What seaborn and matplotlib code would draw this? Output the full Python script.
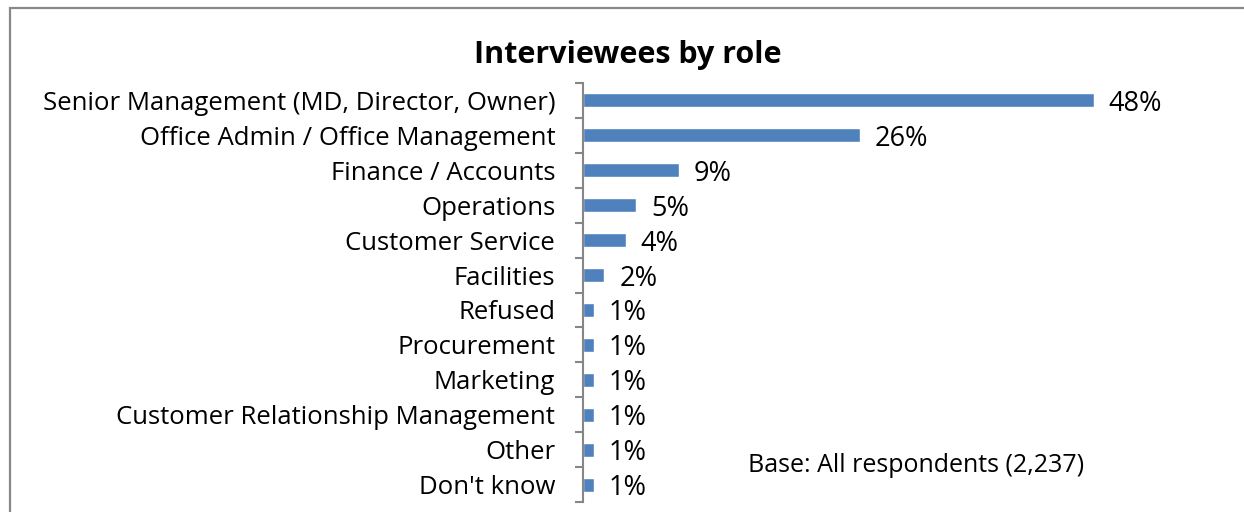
import matplotlib
matplotlib.use("Agg")
import matplotlib.pyplot as plt
import seaborn as sns
import pandas as pd
from matplotlib.patches import Rectangle

roles = [
    "Senior Management (MD, Director, Owner)",
    "Office Admin / Office Management",
    "Finance / Accounts",
    "Operations",
    "Customer Service",
    "Facilities",
    "Refused",
    "Procurement",
    "Marketing",
    "Customer Relationship Management",
    "Other",
    "Don't know",
]
shares = [48, 26, 9, 5, 4, 2, 1, 1, 1, 1, 1, 1]

df = pd.DataFrame({"role": roles, "share": shares})

sns.set_style("white")
plt.rcParams["font.family"] = ["Open Sans", "DejaVu Sans"]
plt.rcParams["text.color"] = "black"
plt.rcParams["ytick.color"] = "black"

W, H = 1244, 512
fig = plt.figure(figsize=(W / 100, H / 100), dpi=100)

# outer chart frame (cut off at right and bottom like the source)
fig.patches.append(Rectangle((10 / W, -0.1), 1.2, (H - 8) / H + 0.1,
                             transform=fig.transFigure, fill=False,
                             edgecolor="#888888", linewidth=1.6))

ax = fig.add_axes([583 / W, 10 / H, 532 / W, 419 / H])
sns.barplot(data=df, x="share", y="role", orient="h", color="#4F81BD",
            width=0.4, saturation=1, ax=ax)

ax.set_xlim(0, 50)
ax.set_ylim(len(roles) - 0.5, -0.5)
ax.set_xlabel("")
ax.set_ylabel("")
ax.set_xticks([])
for s in ["top", "right", "bottom"]:
    ax.spines[s].set_visible(False)
ax.spines["left"].set_color("#868686")
ax.spines["left"].set_linewidth(1.5)

ax.tick_params(axis="y", which="major", length=0, pad=20, labelsize=18.5,
               labelcolor="black")
ax.set_yticks([i - 0.5 for i in range(len(roles) + 1)], minor=True)
ax.tick_params(axis="y", which="minor", left=True, length=6, width=1.5,
               color="#868686")

for i, v in enumerate(shares):
    ax.text(v + 1.4, i + 0.1, f"{v}%", va="center", ha="left", fontsize=19.5)

fig.text(628 / W, 1 - 55 / H, "Interviewees by role", ha="center",
         va="center", fontsize=22, fontweight="bold")
fig.text(748 / W, 1 - 465 / H, "Base: All respondents (2,237)",
         ha="left", va="center", fontsize=18)

fig.savefig("out.png", dpi=100)
